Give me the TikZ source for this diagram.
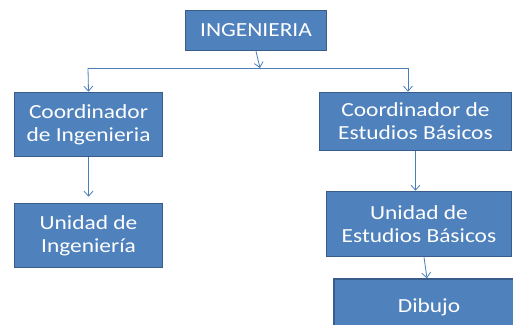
\documentclass[tikz,border=0pt]{standalone}
\usepackage{fontspec}
\setmainfont{Carlito}[FakeStretch=1.17]
\usetikzlibrary{arrows.meta}
\definecolor{boxblue}{HTML}{4F81BD}
\definecolor{boxedge}{HTML}{385D8A}
\definecolor{linkblue}{HTML}{4A7EBB}
\begin{document}
\begin{tikzpicture}[x=1pt,y=-1pt,
  box/.style={rectangle,draw=boxedge,line width=1.6pt,fill=boxblue,text=white,
    align=center,inner sep=0pt,font=\fontsize{20}{23}\selectfont},
  conn/.style={draw=linkblue,line width=0.8pt},
  tip/.style={-{Straight Barb[length=5pt,width=9pt]}}]
\useasboundingbox[fill=white] (0,0) rectangle (513,324);
% top, then left column, then right column
\node[box,minimum width=141pt,minimum height=40pt] (ing) at (256,30.5) {INGENIERIA};
\node[box,minimum width=148pt,minimum height=64pt] (coordI) at (88.5,124.5) {Coordinador\\de Ingenieria};
\node[box,minimum width=192pt,minimum height=58pt] (coordE) at (415.5,121.5) {Coordinador de\\Estudios B\'asicos};
\node[box,minimum width=148pt,minimum height=64pt] (unidI) at (88.5,235.5) {Unidad de\\Ingenier\'ia};
\node[box,minimum width=185pt,minimum height=65pt] (unidE) at (419,224) {Unidad de\\Estudios B\'asicos};
\node[box,minimum width=190pt,minimum height=56pt] (dib) at (429,307) {Dibujo};
\coordinate (bus) at (260,68);
\coordinate (busL) at (88,68);
\coordinate (busR) at (408,68);
\draw[conn,tip] (ing.south) -- (bus);
\draw[conn] (busL) -- (busR);
\draw[conn,tip] (busL) -- (coordI.north);
\draw[conn,tip] (busR) -- (busR |- coordE.north);
\draw[conn,tip,shorten >=6pt] (coordI.south) -- (unidI.north);
\draw[conn,tip] (coordE.south) -- (coordE.south |- unidE.north);
\draw[conn,tip] ([xshift=5pt]unidE.south) -- ([xshift=-2pt]dib.north);
\end{tikzpicture}
\end{document}
